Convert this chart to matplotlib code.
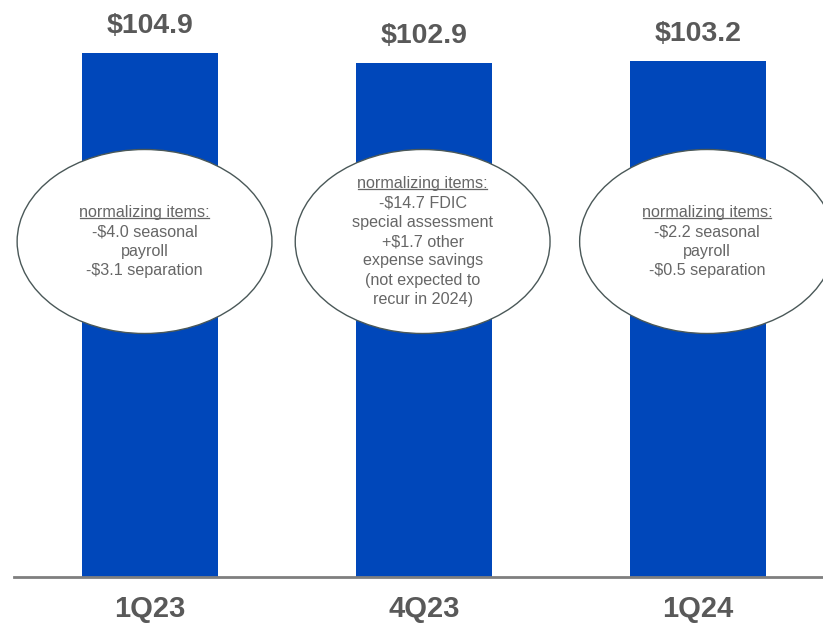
import matplotlib
matplotlib.use("Agg")
import matplotlib.pyplot as plt
from matplotlib.patches import Ellipse
from matplotlib.lines import Line2D

plt.rcParams["font.family"] = ["Liberation Sans", "DejaVu Sans"]
plt.rcParams["text.parse_math"] = False

categories = ["1Q23", "4Q23", "1Q24"]
expenses = [104.9, 102.9, 103.2]
notes = [
    ["normalizing items:", "-$4.0 seasonal", "payroll", "-$3.1 separation"],
    ["normalizing items:", "-$14.7 FDIC", "special assessment", "+$1.7 other",
     "expense savings", "(not expected to", "recur in 2024)"],
    ["normalizing items:", "-$2.2 seasonal", "payroll", "-$0.5 separation"],
]

BAR_BLUE = "#0047BA"
TEXT_GRAY = "#595959"
NOTE_GRAY = "#666666"

W, H = 823, 623
fig = plt.figure(figsize=(W / 100, H / 100), dpi=100)
ax = fig.add_axes([14 / W, 46 / H, (W - 14) / W, 577 / H])
ax.set_xlim(-0.4964, 2.4562)
ax.set_ylim(0, 115.4)
ax.axis("off")

x = list(range(len(categories)))
ax.bar(x, expenses, width=0.496, color=BAR_BLUE, zorder=1)
ax.axhline(0, color="#7f7f7f", lw=2, clip_on=False, zorder=2)

for i, (cat, v) in enumerate(zip(categories, expenses)):
    ax.annotate(f"${v:.1f}", (i, v), xytext=(0, 27), textcoords="offset pixels",
                ha="center", va="center", fontsize=20.5, fontweight="bold",
                color=TEXT_GRAY)
    ax.annotate(cat, (i, 0), xytext=(0, -32), textcoords="offset pixels",
                ha="center", va="center", fontsize=21, fontweight="bold",
                color=TEXT_GRAY)

# callout ellipses with normalizing items
ell_dx = [-0.02, -0.005, 0.033]
ell_cy = 67.1
ell_w, ell_h = 0.93, 36.8
line_step = 19.3
first_lines = []
for i, lines in enumerate(notes):
    cx = i + ell_dx[i]
    ax.add_patch(Ellipse((cx, ell_cy), ell_w, ell_h, facecolor="white",
                         edgecolor="#4a5858", lw=1.0, zorder=3, clip_on=False))
    n = len(lines)
    for k, line in enumerate(lines):
        dy = ((n - 1) / 2 - k) * line_step
        t = ax.annotate(line, (cx, ell_cy), xytext=(0, dy), textcoords="offset pixels",
                        ha="center", va="center", fontsize=11.6, color=NOTE_GRAY,
                        zorder=4)
        if k == 0:
            first_lines.append(t)

fig.canvas.draw()
renderer = fig.canvas.get_renderer()
inv = fig.transFigure.inverted()
for t in first_lines:
    bb = t.get_window_extent(renderer)
    y = bb.y0 + 2
    (x0, y0), (x1, _) = inv.transform([(bb.x0 + 1, y), (bb.x1 - 1, y)])
    fig.add_artist(Line2D([x0, x1], [y0, y0], color=NOTE_GRAY, lw=0.9, zorder=5))

fig.savefig("out.png", dpi=100)
